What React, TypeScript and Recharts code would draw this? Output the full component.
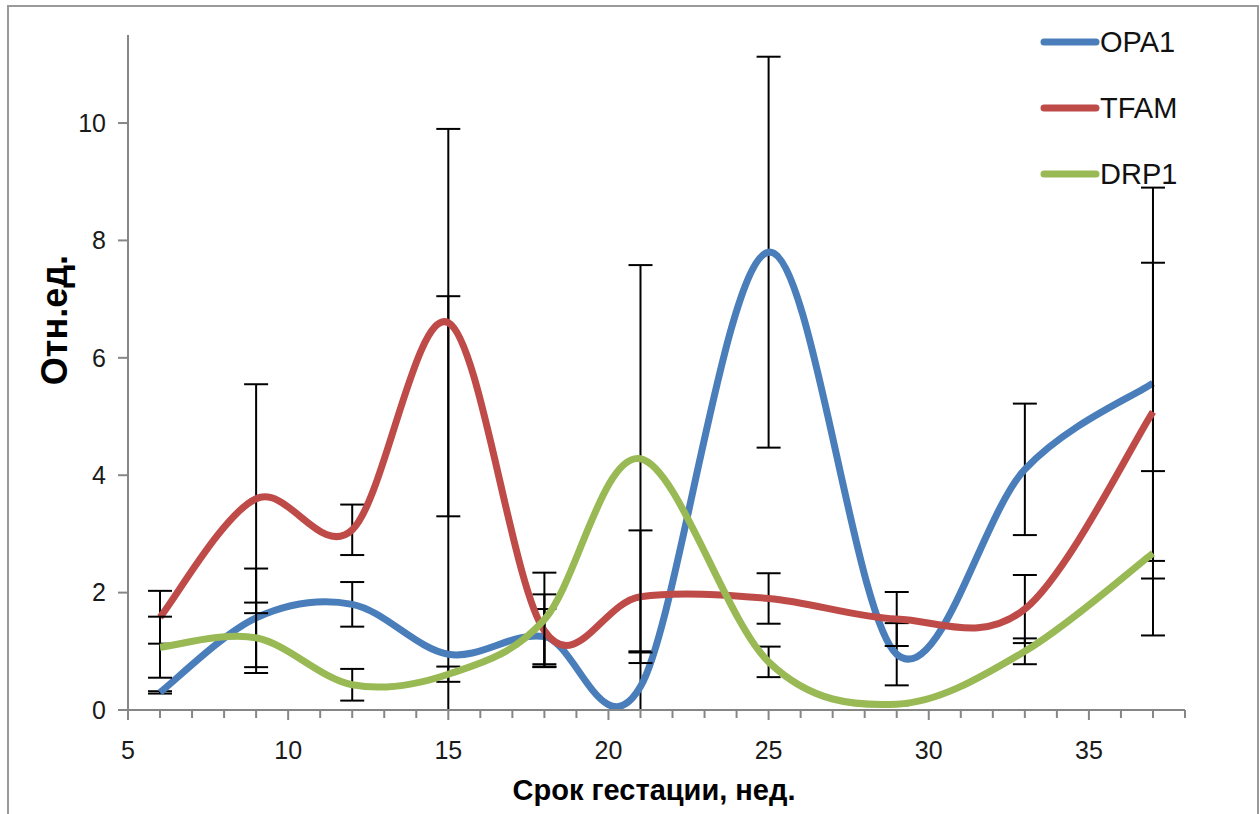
import { LineChart, Line, XAxis, YAxis, ErrorBar } from 'recharts'

// gestation weeks
const weeks = [6, 9, 12, 15, 18, 21, 25, 29, 33, 37]

const opa1 = [0.3, 1.57, 1.8, 0.95, 1.25, 0.4, 7.8, 0.95, 4.1, 5.57]
const opa1Err = [0.02, 0.84, 0.38, 6.1, 0.47, 0.6, 3.33, 0.53, 1.12, 3.33]
const tfam = [1.58, 3.6, 3.07, 6.6, 1.35, 1.93, 1.9, 1.55, 1.72, 5.08]
const tfamErr = [0.45, 1.95, 0.43, 3.3, 0.62, 1.13, 0.43, 0.46, 0.58, 2.54]
const drp1 = [1.07, 1.23, 0.43, 0.61, 1.54, 4.28, 0.82, 0.1, 1.0, 2.67]
const drp1Err = [0.52, 0.6, 0.27, 0.13, 0.8, 3.3, 0.26, 0.02, 0.22, 1.4]

const seriesNames = ['OPA1', 'TFAM', 'DRP1']
const seriesColors = ['#4A7EBB', '#BE4B48', '#98B954']

const xTicks = Array.from({ length: 34 }, (_, i) => 5 + i)
const yTicks = [0, 2, 4, 6, 8, 10]
const Y_MIN = 0

// error bars are cut at the bottom of the plot, like Excel does
const clipErr = (v: number, e: number) => [Math.min(e, v - Y_MIN), e]

const data = weeks.map((w, i) => ({
  x: w,
  opa1: opa1[i], opa1Err: clipErr(opa1[i], opa1Err[i]),
  tfam: tfam[i], tfamErr: clipErr(tfam[i], tfamErr[i]),
  drp1: drp1[i], drp1Err: clipErr(drp1[i], drp1Err[i]),
}))

const FONT = "'Liberation Sans', Arial, sans-serif"
const AXIS = '#868686'

// Excel-like smoothing (uniform Catmull-Rom as bezier)
function excelCurve(context: any) {
  let pts: number[][] = []
  return {
    areaStart() {},
    areaEnd() {},
    lineStart() { pts = [] },
    lineEnd() {
      const n = pts.length
      if (!n) return
      context.moveTo(pts[0][0], pts[0][1])
      for (let i = 0; i < n - 1; i++) {
        const p0 = pts[i - 1] || pts[i]
        const p1 = pts[i]
        const p2 = pts[i + 1]
        const p3 = pts[i + 2] || p2
        context.bezierCurveTo(
          p1[0] + (p2[0] - p0[0]) / 6, p1[1] + (p2[1] - p0[1]) / 6,
          p2[0] - (p3[0] - p1[0]) / 6, p2[1] - (p3[1] - p1[1]) / 6,
          p2[0], p2[1]
        )
      }
    },
    point(x: number, y: number) { pts.push([+x, +y]) },
  }
}

const XTick = ({ x, y, payload }: any) => {
  const v = payload.value
  const major = v % 5 === 0
  return (
    <g>
      <line x1={x} x2={x} y1={y} y2={y + (major ? 10 : 8)} stroke={AXIS} strokeWidth={2} />
      {major && v <= 35 && (
        <text x={x} y={y + 49} textAnchor="middle" fontFamily={FONT} fontSize={25} fill="#1a1a1a">{v}</text>
      )}
    </g>
  )
}

export default function App() {
  const keys = ['opa1', 'tfam', 'drp1']
  return (
    <div style={{ position: 'absolute', left: 0, top: 0, width: 1260, height: 814, overflow: 'hidden', background: '#fff' }}>
      <div style={{ position: 'absolute', left: 7, top: 5, width: 1248, height: 830, border: '2px solid #9a9a9a' }} />
      <LineChart width={1260} height={814} data={data} margin={{ top: 35, right: 75, left: 68, bottom: 44 }}>
        <XAxis
          type="number"
          dataKey="x"
          domain={[5, 38]}
          ticks={xTicks}
          interval={0}
          allowDataOverflow
          height={60}
          tickLine={false}
          tickSize={0}
          tickMargin={0}
          tick={<XTick />}
          axisLine={{ stroke: AXIS, strokeWidth: 2 }}
        />
        <YAxis
          type="number"
          domain={[Y_MIN, 11.5]}
          ticks={yTicks}
          allowDataOverflow
          width={60}
          tickSize={10}
          tickMargin={12}
          tickLine={{ stroke: AXIS, strokeWidth: 2 }}
          axisLine={{ stroke: AXIS, strokeWidth: 2 }}
          tick={{ fontFamily: FONT, fontSize: 25, fill: '#1a1a1a' }}
        />
        {keys.map((k, i) => (
          <Line
            key={k}
            name={seriesNames[i]}
            dataKey={k}
            type={excelCurve as any}
            stroke={seriesColors[i]}
            strokeWidth={7}
            dot={false}
            isAnimationActive={false}
          >
            <ErrorBar dataKey={k + 'Err'} width={12} stroke="#000" strokeWidth={2} direction="y" />
          </Line>
        ))}
      </LineChart>
      <div style={{ position: 'absolute', left: 1038, top: 9, fontFamily: FONT, fontSize: 29, color: '#111' }}>
        {seriesNames.map((n, i) => (
          <div key={n} style={{ display: 'flex', alignItems: 'center', height: 66 }}>
            <svg width={62} height={10}>
              <line x1={6} x2={58} y1={5} y2={5} stroke={seriesColors[i]} strokeWidth={7} strokeLinecap="round" />
            </svg>
            <span>{n}</span>
          </div>
        ))}
      </div>
      <div style={{ position: 'absolute', left: 654, top: 790, transform: 'translate(-50%, -50%)', fontFamily: FONT, fontWeight: 'bold', fontSize: 29, whiteSpace: 'nowrap', color: '#000' }}>
        Срок гестации, нед.
      </div>
      <div style={{ position: 'absolute', left: 55, top: 320, transform: 'translate(-50%, -50%) rotate(-90deg)', fontFamily: FONT, fontWeight: 'bold', fontSize: 36, whiteSpace: 'nowrap', color: '#000' }}>
        Отн.ед.
      </div>
    </div>
  )
}
